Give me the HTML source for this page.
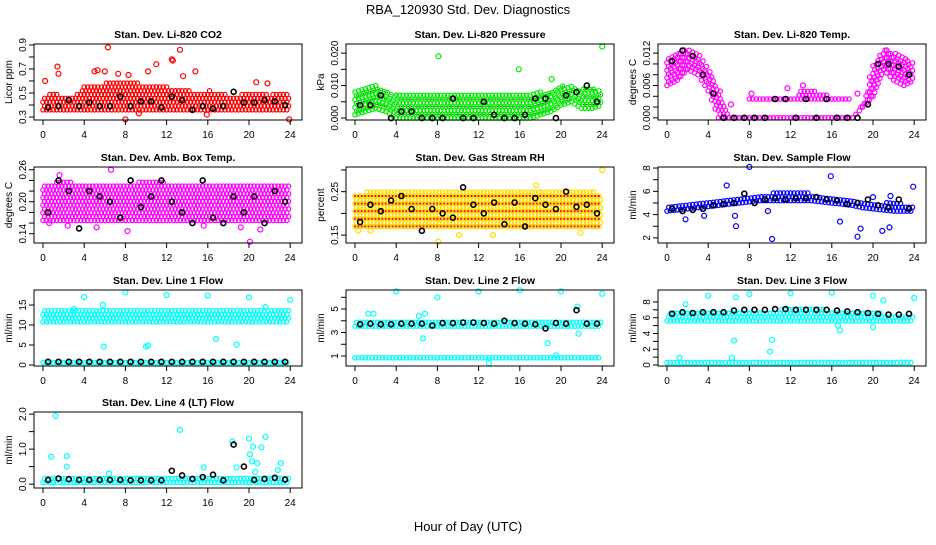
<!DOCTYPE html>
<html><head><meta charset="utf-8"><style>
body{margin:0;background:#fff}
svg text{font-family:"Liberation Sans",sans-serif}
</style></head><body>
<svg id="c" width="936" height="540" xmlns="http://www.w3.org/2000/svg">
<rect width="936" height="540" fill="#fff"/>
<text x="468" y="14" font-size="13" text-anchor="middle">RBA_120930  Std. Dev. Diagnostics</text>
<text x="468" y="531" font-size="13" text-anchor="middle">Hour of Day (UTC)</text>
</svg>
<script>
// ---- data: hourly band low/high (h=0..24), outliers [hour,value], black half-hour values ----
const co2Lo=[.36,.36,.36,.36,.36,.36,.36,.36,.36,.36,.36,.36,.36,.36,.36,.36,.36,.36,.36,.36,.36,.36,.36,.36,.36];
const co2Hi=[.46,.50,.47,.47,.55,.55,.58,.60,.58,.58,.57,.55,.55,.53,.52,.50,.52,.50,.48,.48,.50,.50,.48,.50,.48];
const co2Out=[[6.3,.88],[13.3,.86],[12.5,.78],[12.6,.77],[1.4,.72],[1.5,.66],[11,.74],[5.3,.69],[5,.68],[6,.68],[14.8,.68],[8,.28],[23.9,.28],[15.9,.32],[9.3,.33],[0.2,.60],[20.7,.59],[21.8,.58],[13.6,.64],[10.2,.68],[7.3,.66],[8.3,.65]];
const co2Blk=[.38,.39,.44,.39,.42,.39,.39,.47,.39,.43,.43,.38,.47,.44,.36,.39,.37,.39,.51,.42,.42,.44,.43,.40];

const prLo=[.001,.002,.003,.002,.000,.000,.000,.000,.000,.000,.000,.000,.000,.000,.000,.000,.000,.000,.001,.002,.004,.005,.003,.003,.004];
const prHi=[.008,.009,.010,.008,.007,.007,.007,.007,.007,.007,.007,.007,.007,.007,.007,.007,.007,.008,.008,.008,.010,.010,.009,.009,.008];
const prOut=[[8.1,.019],[15.9,.015],[19.1,.012],[24,.022]];
const prBlk=[.004,.004,.007,.0,.002,.002,.0,.0,.0,.006,.0,.0,.005,.001,.0,.0,.001,.006,.006,.0,.007,.008,.010,.005];

const tpLo=[.006,.007,.009,.008,.005,.0,.0,.0,.0,.0,.0,.0,.0,.0,.0,.0,.0,.0,.0,.002,.004,.009,.007,.006,.007];
const tpHi=[.011,.012,.013,.012,.009,.005,.0,.0,.0,.0,.0,.0,.0,.0,.0,.0,.0,.0,.0,.003,.010,.013,.012,.011,.010];
const tp2Lo=[null,null,null,null,null,null,null,null,.0035,.0035,.0035,.0035,.0035,.0035,.0035,.0035,.0035,.0035,.0035,null,null,null,null,null,null];
const tp2Hi=[null,null,null,null,null,null,null,null,.0035,.0035,.0035,.0035,.0035,.005,.005,.0045,.0035,.0035,.0035,null,null,null,null,null,null];
const tpOut=[[8.2,.0045],[11.7,.0055],[13.2,.006],[18.5,.0045],[6.2,.0025]];
const tpBlk=[.0105,.0125,.0115,.008,.0045,.0,.0,.0,.0,.0,.0035,.0035,.0,.0035,.0,.0035,.0,.0,.0,.0025,.010,.010,.0095,.008];

const abLo=[.165,.165,.165,.165,.165,.165,.165,.165,.165,.165,.165,.165,.165,.165,.165,.165,.165,.165,.165,.165,.165,.165,.165,.165,.165];
const abHi=[.235,.235,.24,.235,.235,.235,.235,.235,.235,.235,.24,.24,.235,.235,.235,.235,.235,.235,.23,.23,.23,.23,.23,.23,.23];
const abOut=[[6.6,.26],[20.1,.125],[8.2,.145],[2.4,.155],[5.2,.152],[19.2,.152],[21.1,.148],[1.6,.25],[0.6,.16],[15.6,.155]];
const abBlk=[.18,.24,.22,.15,.22,.21,.20,.17,.24,.19,.21,.24,.20,.18,.16,.24,.17,.16,.21,.18,.21,.16,.22,.20];

const rhLo=[.17,.17,.17,.17,.17,.17,.17,.17,.17,.17,.17,.17,.17,.17,.17,.17,.17,.17,.17,.17,.17,.17,.17,.17,.17];
const rhHi=[.24,.25,.25,.25,.25,.25,.25,.25,.25,.25,.25,.25,.25,.25,.25,.25,.25,.25,.25,.25,.25,.25,.25,.25,.24];
const rhOut=[[8.1,.135],[24,.30],[10.1,.15],[21.9,.155],[0.3,.16],[1.5,.16],[13.4,.15],[17.6,.265]];
const rhBlk=[.18,.22,.205,.23,.24,.21,.16,.21,.20,.19,.26,.22,.20,.225,.175,.225,.17,.235,.22,.21,.25,.215,.22,.20];

const sfLo=[4.3,4.4,4.5,4.6,4.7,4.8,4.9,5.0,5.1,5.2,5.2,5.2,5.2,5.2,5.2,5.1,5.0,4.9,4.8,4.6,4.5,4.4,4.3,4.3,4.3];
const sfHi=[4.9,5.0,5.1,5.1,5.2,5.3,5.4,5.5,5.7,5.8,5.8,5.9,5.9,5.9,5.8,5.7,5.6,5.5,5.3,5.2,5.1,5.0,5.0,4.9,4.9];
const sfOut=[[8,8.1],[15.9,7.3],[5.8,6.5],[23.9,6.4],[10.2,1.9],[18.5,2.1],[6.7,3.0],[21.6,2.9],[18.8,2.8],[1.8,3.6],[3.6,3.9],[16.8,3.4],[9.8,4.3],[20.9,2.6],[6.6,3.9],[20,5.5],[21.7,5.6]];
const sfBlk=[4.5,4.3,4.4,4.5,4.8,4.9,5.0,5.8,5.0,5.3,5.4,5.3,5.4,5.4,5.5,5.3,5.2,4.9,5.0,5.3,4.8,4.6,5.3,4.5];

const l1aLo=Array(25).fill(12.6), l1aHi=Array(25).fill(13.6);
const l1bLo=Array(25).fill(10.8), l1bHi=Array(25).fill(11.9);
const l1cLo=Array(25).fill(0.6), l1cHi=Array(25).fill(0.9);
const l1Out=[[8,18.2],[12,17.5],[16,17.4],[4,17],[20,16.9],[24,16.3],[5.9,4.6],[10,4.6],[10.2,4.9],[16.8,6.5],[18.8,5.1],[21.6,14.5],[5.8,15],[3,14]];
const l1Blk=[.8,.8,.8,.8,.8,.8,.8,.8,.8,.8,.8,.8,.8,.8,.8,.8,.8,.8,.8,.8,.8,.8,.8,.8];

const l2aLo=Array(25).fill(3.55), l2aHi=Array(25).fill(4.05);
const l2bLo=Array(25).fill(0.85), l2bHi=Array(25).fill(1.0);
const l2Out=[[4,6.5],[12,6.5],[16,6.6],[20,6.5],[24,6.3],[8,6.0],[6.6,2.5],[18.7,2.1],[21.7,2.9],[21.6,5.2],[1.3,4.6],[1.8,4.6],[6.2,4.4],[6.8,4.6],[13,0.4],[19.5,1.05]];
const l2Blk=[3.7,3.75,3.7,3.7,3.75,3.75,3.75,3.6,3.8,3.8,3.85,3.85,3.8,3.75,4.0,3.8,3.75,3.7,3.35,3.8,3.75,4.9,3.75,3.75];

const l3aLo=Array(25).fill(5.6), l3aHi=[6.5,6.6,6.6,6.7,6.7,6.8,6.9,6.9,6.9,6.9,6.9,7.0,7.0,7.0,7.1,7.0,6.9,6.8,6.7,6.6,6.6,6.5,6.5,6.5,6.4];
const l3bLo=Array(25).fill(0.3), l3bHi=Array(25).fill(0.6);
const l3Out=[[4,8.8],[8,9],[12,9.1],[16,9.2],[20,8.8],[24,8.5],[6.7,8.6],[1.8,7.7],[21,8.2],[6.5,3.1],[10.2,3.2],[10,1.7],[16.8,4.4],[20,4.8],[6.3,0.9],[1.2,0.9],[16.6,5.0]];
const l3Blk=[6.5,6.7,6.6,6.7,6.7,6.7,6.9,7.0,7.0,7.0,7.1,7.1,7.0,7.0,7.0,7.0,6.9,6.8,6.7,6.6,6.5,6.4,6.4,6.5];

const l4Lo=Array(25).fill(0.05), l4Hi=[.25,.25,.22,.22,.22,.18,.2,.2,.2,.2,.2,.2,.2,.2,.22,.25,.25,.25,.25,.25,.25,.25,.22,.2,.2];
const l4Out=[[1.2,1.95],[13.3,1.55],[21.6,1.35],[20,1.3],[18.4,1.22],[21.2,1.05],[20.4,1.07],[20.1,0.85],[0.8,0.78],[2.3,0.8],[2.3,0.5],[18.8,0.48],[20.3,0.65],[20.8,0.6],[23.1,0.6],[22.8,0.4],[15.6,0.48],[20.6,0.35],[6.4,0.3]];
const l4Blk=[.12,.16,.14,.12,.12,.12,.12,.12,.11,.11,.11,.11,.38,.25,.15,.2,.27,.11,1.13,.5,.12,.15,.18,.13];

const panels=[
 {name:'co2',title:'Stan. Dev. Li-820 CO2',yl:'Licor ppm',col:'#ff0000',dom:[.275,.908],ticks:[.3,.4,.5,.6,.7,.8,.9],labs:['0.3','0.5','0.7','0.9'],bands:[[co2Lo,co2Hi]],out:co2Out,blk:co2Blk},
 {name:'pressure',title:'Stan. Dev. Li-820 Pressure',yl:'kPa',col:'#00ee00',dom:[-.0006,.0228],ticks:[0,.005,.01,.015,.02],labs:['0.000','0.010','0.020'],bands:[[prLo,prHi]],out:prOut,blk:prBlk,dark:true},
 {name:'temp',title:'Stan. Dev. Li-820 Temp.',yl:'degrees C',col:'#ff00ff',dom:[-.0004,.0137],ticks:[0,.002,.004,.006,.008,.01,.012],labs:['0.000','0.006','0.012'],labv:[0,.006,.012],bands:[[tpLo,tpHi],[tp2Lo,tp2Hi]],out:tpOut,blk:tpBlk},
 {name:'amb-box-temp',title:'Stan. Dev. Amb. Box Temp.',yl:'degrees C',col:'#ff00ff',dom:[.1226,.2652],ticks:[.14,.16,.18,.2,.22,.24,.26],labs:['0.14','0.20','0.26'],bands:[[abLo,abHi]],out:abOut,blk:abBlk},
 {name:'gas-rh',title:'Stan. Dev. Gas Stream RH',yl:'percent',col:'#ffdd00',dom:[.1318,.3068],ticks:[.15,.2,.25,.3],labs:['0.15','0.25'],bands:[[rhLo,rhHi]],out:rhOut,blk:rhBlk,red:true},
 {name:'sample-flow',title:'Stan. Dev. Sample Flow',yl:'ml/min',col:'#0000ff',dom:[1.56,8.09],ticks:[2,3,4,5,6,7,8],labs:['2','4','6','8'],bands:[[sfLo,sfHi]],out:sfOut,blk:sfBlk},
 {name:'line1',title:'Stan. Dev. Line 1 Flow',yl:'ml/min',col:'#00ffff',dom:[-.25,18.75],ticks:[0,5,10,15],labs:['0','5','10','15'],bands:[[l1aLo,l1aHi],[l1bLo,l1bHi],[l1cLo,l1cHi]],out:l1Out,blk:l1Blk},
 {name:'line2',title:'Stan. Dev. Line 2 Flow',yl:'ml/min',col:'#00ffff',dom:[.15,6.62],ticks:[1,2,3,4,5,6],labs:['1','3','5'],labv:[1,3,5],bands:[[l2aLo,l2aHi],[l2bLo,l2bHi]],out:l2Out,blk:l2Blk},
 {name:'line3',title:'Stan. Dev. Line 3 Flow',yl:'ml/min',col:'#00ffff',dom:[-.13,9.52],ticks:[0,1,2,3,4,5,6,7,8],labs:['0','2','4','6','8'],labv:[0,2,4,6,8],bands:[[l3aLo,l3aHi],[l3bLo,l3bHi]],out:l3Out,blk:l3Blk},
 {name:'line4',title:'Stan. Dev. Line 4 (LT) Flow',yl:'ml/min',col:'#00ffff',dom:[-.11,2.06],ticks:[0,.5,1,1.5,2],labs:['0.0','1.0','2.0'],labv:[0,1,2],bands:[[l4Lo,l4Hi]],out:l4Out,blk:l4Blk}
];
const NS='http://www.w3.org/2000/svg';
const svg=document.getElementById('c');
const tops=[44,167,290,412], lefts=[34,346,658], W=268, H=76;
function mk(tag,attrs,parent){const e=document.createElementNS(NS,tag);for(const k in attrs)e.setAttribute(k,attrs[k]);(parent||svg).appendChild(e);return e;}
panels.forEach((p,i)=>{
  const L=lefts[i%3], T=tops[Math.floor(i/3)], B=T+H;
  const g=mk('g',{});
  
  
  const xs=t=>L+9+t*10.3;
  const ys=v=>B-(v-p.dom[0])/(p.dom[1]-p.dom[0])*H;
  const pts=mk('g',{fill:'none','stroke-width':1.2},g);
  
  
  p.bands.forEach((b)=>{
    const [lo,hi]=b;
    for(let h=0;h<24;h++){
      if(lo[h]==null||lo[h+1]==null) continue;
      for(let k=0;k<3;k++){
        const f=k/3, t=h+f;
        const l=lo[h]+(lo[h+1]-lo[h])*f, u=hi[h]+(hi[h+1]-hi[h])*f;
        const py1=ys(l), py2=ys(u);
        let row=0;
        for(let py=py1;py>=py2-0.5;py-=3.8){
          const px=xs(t)+((row%2)?1.7:0);
          const c=mk('circle',{cx:px.toFixed(1),cy:py.toFixed(1),r:2.2,stroke:p.col},pts);
          
          
          if(p.red&&row%2==0){const d=mk('rect',{x:(px-1).toFixed(1),y:(py-1).toFixed(1),width:2,height:2,fill:'#ff0000',stroke:'none'},pts);
            
            }
          if(p.dark&&row%2==1){const d=mk('rect',{x:(px-0.5).toFixed(1),y:(py-0.5).toFixed(1),width:1,height:1,fill:'#000',stroke:'none'},pts);
            
            }
          row++;
        }
      }
    }
  });
  p.out.forEach(o=>{
    const c=mk('circle',{cx:xs(o[0]).toFixed(1),cy:ys(o[1]).toFixed(1),r:2.5,stroke:p.col},pts);
    
    
  });
  p.blk.forEach((v,j)=>{
    const c=mk('circle',{cx:xs(j+0.5).toFixed(1),cy:ys(v).toFixed(1),r:2.5,stroke:'#000','stroke-width':1.6},pts);
    
    
  });
  const bx=mk('rect',{x:L,y:T,width:W,height:H,fill:'none',stroke:'#000','stroke-width':1},g);
  
  
  const tt=mk('text',{x:L+W/2,y:T-6,'font-size':10.5,'font-weight':'bold','text-anchor':'middle'},g);
  tt.textContent=p.title;
  
  
  [0,4,8,12,16,20,24].forEach(t=>{
    mk('line',{x1:xs(t),x2:xs(t),y1:B,y2:B+5,stroke:'#000'},g);
    const tx=mk('text',{x:xs(t),y:B+18,'font-size':10,'text-anchor':'middle'},g);
    tx.textContent=t;
    
    
  });
  mk('line',{x1:xs(0),x2:xs(24),y1:B,y2:B,stroke:'#000'},g);
  p.ticks.forEach(v=>mk('line',{x1:L-5,x2:L,y1:ys(v),y2:ys(v),stroke:'#000'},g));
  const labv=p.labv||p.labs.map(Number);
  p.labs.forEach((s,j)=>{
    const y=ys(labv[j]);
    const tx=mk('text',{x:L-8,y:y,'font-size':10,'text-anchor':'middle',transform:`rotate(-90 ${L-8} ${y})`},g);
    tx.textContent=s;
    
    
  });
  const yl=mk('text',{x:L-22,y:T+H/2,'font-size':10,'text-anchor':'middle',transform:`rotate(-90 ${L-22} ${T+H/2})`},g);
  yl.textContent=p.yl;
  
  
});
</script>
</body></html>
